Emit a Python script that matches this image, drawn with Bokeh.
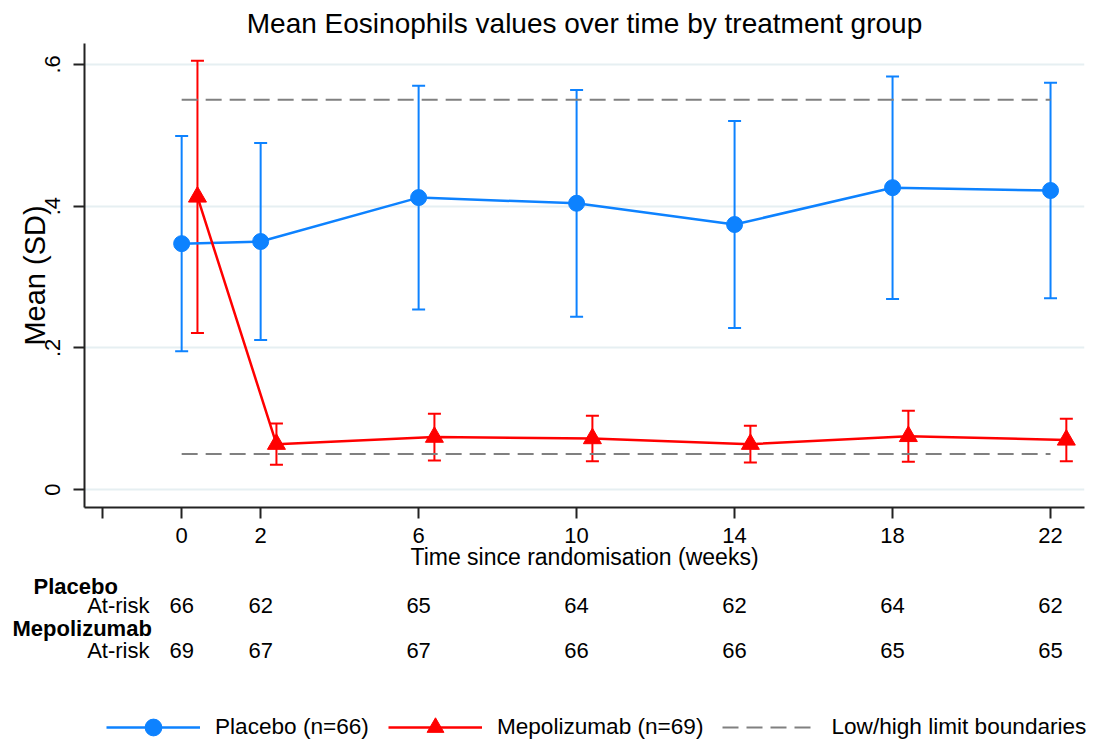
from bokeh.plotting import figure
from bokeh.models import (Range1d, FixedTicker, Whisker, TeeHead, ColumnDataSource,
                          Legend, LegendItem, CustomJSTickFormatter)
from bokeh.layouts import column
from bokeh.embed import file_html
from bokeh.resources import INLINE
from bokeh.core.properties import value

FONT = "Liberation Sans"

# ---------------- data ----------------
weeks = [0, 2, 6, 10, 14, 18, 22]
placebo_mean = [0.347, 0.350, 0.412, 0.404, 0.374, 0.426, 0.422]
placebo_sd = [0.152, 0.139, 0.158, 0.160, 0.146, 0.157, 0.152]
mepo_mean = [0.413, 0.064, 0.074, 0.072, 0.064, 0.075, 0.070]
mepo_sd = [0.192, 0.029, 0.033, 0.032, 0.026, 0.036, 0.030]
placebo_risk = [66, 62, 65, 64, 62, 64, 62]
mepo_risk = [69, 67, 67, 66, 66, 65, 65]
limit_low = 0.05
limit_high = 0.55
x_ticks = [-2] + weeks
y_ticks = [0, 0.2, 0.4, 0.6]
mepo_offset = 0.4

BLUE = "#0d82ff"
RED = "#ff0000"
GRAY = "#808080"
AXIS = "#222222"

# ---------------- layout constants ----------------
W, H = 1094, 742
H1 = 573
H2 = H - H1
FL, FR = 84, 1084
FT, FB = 43, 507
x0, x1 = -2.46, 22.86
y0, y1 = -0.0254, 0.6295

p = figure(width=W, height=H1, x_range=Range1d(x0, x1), y_range=Range1d(y0, y1),
           output_backend="svg", toolbar_location=None,
           min_border_left=FL, min_border_right=W - FR,
           min_border_top=FT, min_border_bottom=H1 - FB)
p.outline_line_color = None
p.background_fill_color = "white"
p.border_fill_color = "white"

p.title.text = "Mean Eosinophils values over time by treatment group"
p.title.align = "center"
p.title.text_font = FONT
p.title.text_font_size = "28px"
p.title.text_font_style = "normal"
p.title.text_color = "black"

# axes
for ax in (p.xaxis[0], p.yaxis[0]):
    ax.axis_line_color = AXIS
    ax.axis_line_width = 2
    ax.major_tick_line_color = AXIS
    ax.major_tick_line_width = 2
    ax.major_tick_out = 11
    ax.major_tick_in = 0
    ax.minor_tick_line_color = None
    ax.major_label_text_font = FONT
    ax.major_label_text_font_size = "22px"
    ax.major_label_text_color = "black"
    ax.axis_label_text_font = FONT
    ax.axis_label_text_font_style = "normal"
    ax.axis_label_text_color = "black"

p.xaxis.ticker = FixedTicker(ticks=x_ticks)
p.xaxis.formatter = CustomJSTickFormatter(code="return tick < 0 ? '' : tick.toFixed(0);")
p.xaxis.axis_label = "Time since randomisation (weeks)"
p.xaxis.axis_label_text_font_size = "23px"
p.xaxis.major_label_standoff = 9
p.xaxis.axis_label_standoff = -2

p.yaxis.ticker = FixedTicker(ticks=y_ticks)
p.yaxis.formatter = CustomJSTickFormatter(
    code="return tick == 0 ? '0' : tick.toFixed(1).replace(/^0/, '');")
p.yaxis.major_label_orientation = "vertical"
p.yaxis.axis_label = "Mean (SD)"
p.yaxis.axis_label_text_font_size = "29px"
p.yaxis.major_label_standoff = 13
p.yaxis.axis_label_standoff = -8

p.xgrid.visible = False
p.ygrid.grid_line_color = "#e6eff2"
p.ygrid.grid_line_width = 2

# reference lines
p.line([weeks[0], weeks[-1]], [limit_high, limit_high], line_color=GRAY, line_width=2, line_dash="16 8")
p.line([weeks[0], weeks[-1]], [limit_low, limit_low], line_color=GRAY, line_width=2, line_dash="16 8")

# placebo
src_p = ColumnDataSource(dict(
    x=weeks, m=placebo_mean,
    up=[m + s for m, s in zip(placebo_mean, placebo_sd)],
    lo=[m - s for m, s in zip(placebo_mean, placebo_sd)]))
p.add_layout(Whisker(source=src_p, base="x", upper="up", lower="lo", dimension="height",
                     line_color=BLUE, line_width=2,
                     upper_head=TeeHead(size=13, line_color=BLUE, line_width=2),
                     lower_head=TeeHead(size=13, line_color=BLUE, line_width=2)))
p.line("x", "m", source=src_p, line_color=BLUE, line_width=2.5)
p.scatter("x", "m", source=src_p, marker="circle", size=16, fill_color=BLUE, line_color=BLUE)

# mepolizumab
mx = [w + mepo_offset for w in weeks]
src_m = ColumnDataSource(dict(
    x=mx, m=mepo_mean,
    up=[m + s for m, s in zip(mepo_mean, mepo_sd)],
    lo=[m - s for m, s in zip(mepo_mean, mepo_sd)]))
p.add_layout(Whisker(source=src_m, base="x", upper="up", lower="lo", dimension="height",
                     line_color=RED, line_width=2,
                     upper_head=TeeHead(size=13, line_color=RED, line_width=2),
                     lower_head=TeeHead(size=13, line_color=RED, line_width=2)))
p.line("x", "m", source=src_m, line_color=RED, line_width=2.5)
p.scatter("x", "m", source=src_m, marker="triangle", size=18, fill_color=RED, line_color=RED)

# ---------------- at-risk table + legend (full-width frame) ----------------
scale = (FR - FL) / (x1 - x0)
xs2 = x0 - FL / scale
xe2 = x1 + (W - FR) / scale


def px2x(px):
    return xs2 + px / scale


def py2y(py):
    # page y (from top) -> local y of the lower figure (from bottom)
    return H - py


q = figure(width=W, height=H2, x_range=Range1d(xs2, xe2), y_range=Range1d(0, H2),
           output_backend="svg", toolbar_location=None,
           x_axis_location=None, y_axis_location=None, min_border=0)
q.outline_line_color = None
q.xgrid.visible = False
q.ygrid.visible = False

for fig in (p, q):
    try:
        fig.frame_align = False
    except Exception:
        pass

tkw = dict(text_font=value(FONT), text_font_size="22px", text_color="black",
           text_baseline="middle")
q.text(x=weeks, y=[py2y(605)] * len(weeks), text=[str(v) for v in placebo_risk],
       text_align="center", **tkw)
q.text(x=weeks, y=[py2y(650)] * len(weeks), text=[str(v) for v in mepo_risk],
       text_align="center", **tkw)
q.text(x=[px2x(33)], y=[py2y(586)], text=["Placebo"], text_align="left",
       text_font_style="bold", **tkw)
q.text(x=[px2x(12)], y=[py2y(628)], text=["Mepolizumab"], text_align="left",
       text_font_style="bold", **tkw)
q.text(x=[px2x(149), px2x(149)], y=[py2y(605), py2y(650)], text=["At-risk", "At-risk"],
       text_align="right", **tkw)

# legend renderers (single point far outside the visible range)
far_x = [xs2 - 100]
far_y = [-1000]
lb = q.line(x=far_x, y=far_y, line_color=BLUE, line_width=2.5)
sb = q.scatter(x=far_x, y=far_y, marker="circle", size=16, fill_color=BLUE, line_color=BLUE)
lr = q.line(x=far_x, y=far_y, line_color=RED, line_width=2.5)
sr = q.scatter(x=far_x, y=far_y, marker="triangle", size=18, fill_color=RED, line_color=RED)
lg = q.line(x=far_x, y=far_y, line_color=GRAY, line_width=2, line_dash="16 8")

legend = Legend(items=[
    LegendItem(label="Placebo (n=66)", renderers=[lb, sb]),
    LegendItem(label="Mepolizumab (n=69)", renderers=[lr, sr]),
    LegendItem(label="Low/high limit boundaries", renderers=[lg]),
], orientation="horizontal", location=(106, -6), glyph_width=94, glyph_height=42,
    label_height=24, label_standoff=15, spacing=19, padding=0, margin=0,
    border_line_color=None, background_fill_alpha=0,
    label_text_font=FONT, label_text_font_size="22.6px", label_text_color="black")
q.add_layout(legend)

layout = column(p, q, spacing=0)
open("out.html", "w").write(file_html(layout, INLINE))
